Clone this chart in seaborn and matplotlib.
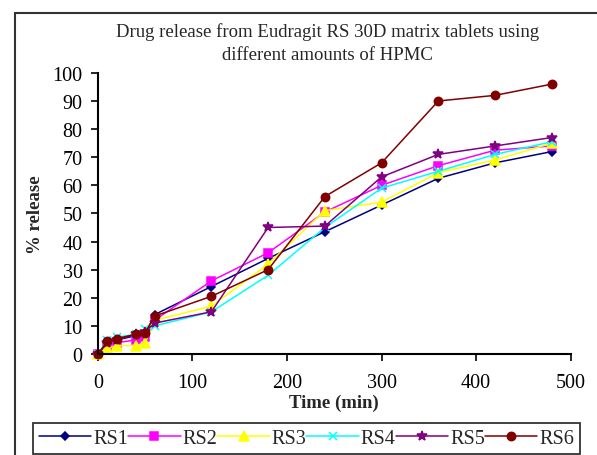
import matplotlib
matplotlib.use("Agg")
import matplotlib.pyplot as plt
import seaborn as sns
import pandas as pd
from matplotlib.patches import Rectangle

time = [0, 10, 20, 40, 50, 60, 120, 180, 240, 300, 360, 420, 480]
rs1 = [0, 4.0, 5.0, 6.5, 7.0, 14.0, 24.0, 34.0, 43.5, 53.0, 62.5, 68.0, 72.0]
rs2 = [0, 3.0, 4.0, 5.0, 6.0, 12.0, 26.0, 36.0, 50.5, 60.0, 67.0, 72.5, 74.0]
rs3 = [0, 2.0, 3.0, 3.0, 4.0, 12.0, 17.0, 32.0, 51.0, 54.0, 64.5, 69.0, 75.0]
rs4 = [0, 5.0, 6.0, 7.0, 9.0, 10.0, 15.0, 28.0, 45.0, 59.0, 65.0, 71.0, 75.5]
rs5 = [0, 4.0, 5.0, 7.0, 8.0, 11.0, 15.0, 45.0, 45.5, 63.0, 71.0, 74.0, 77.0]
rs6 = [0, 4.5, 5.5, 7.0, 7.5, 13.5, 20.5, 30.0, 56.0, 68.0, 90.0, 92.0, 96.0]
series_names = ["RS1", "RS2", "RS3", "RS4", "RS5", "RS6"]
series_values = [rs1, rs2, rs3, rs4, rs5, rs6]
x_ticks = [0, 100, 200, 300, 400, 500]
y_ticks = [0, 10, 20, 30, 40, 50, 60, 70, 80, 90, 100]
title = "Drug release from Eudragit RS 30D matrix tablets using\ndifferent amounts of HPMC"

rows = []
for name, vals in zip(series_names, series_values):
    for t, v in zip(time, vals):
        rows.append({"Time": t, "Release": v, "Series": name})
df = pd.DataFrame(rows)

sns.set_style("ticks")
plt.rcParams['font.family'] = ['Liberation Serif', 'DejaVu Serif']

palette = {"RS1": "#000080", "RS2": "#FF00FF", "RS3": "#FFFF00",
           "RS4": "#00FFFF", "RS5": "#800080", "RS6": "#800000"}
markers = {"RS1": "D", "RS2": "s", "RS3": "^", "RS4": "x", "RS5": "*", "RS6": "o"}
msizes = {"RS1": 4.5, "RS2": 6, "RS3": 6.5, "RS4": 6, "RS5": 7, "RS6": 6}

fig = plt.figure(figsize=(5.97, 4.56), dpi=100)
ax = fig.add_axes([0.164, 0.2215, 0.792, 0.6165])

for name in series_names:
    sub = df[df["Series"] == name]
    sns.lineplot(data=sub, x="Time", y="Release", ax=ax, color=palette[name],
                 marker=markers[name], markersize=msizes[name], linewidth=1.1,
                 markeredgecolor=palette[name], markeredgewidth=1.1,
                 estimator=None, sort=False, label=name, legend=False, clip_on=False)

ax.set_xlim(0, 500)
ax.set_ylim(0, 100)
ax.set_xticks(x_ticks)
ax.set_yticks(y_ticks)
ax.tick_params(axis='both', labelsize=14.5, direction='out', length=5, width=1.2, colors='black')
ax.tick_params(axis='x', pad=9)
ax.tick_params(axis='y', pad=6)
for s in ["top", "right"]:
    ax.spines[s].set_visible(False)
for s in ["left", "bottom"]:
    ax.spines[s].set_linewidth(1.5)
    ax.spines[s].set_color('black')

ax.set_xlabel("Time (min)", fontsize=13.5, fontweight='bold', labelpad=1)
ax.set_ylabel("% release", fontsize=13.5, fontweight='bold', labelpad=6)

fig.text(0.548, 0.905, title, ha='center', va='center', fontsize=13.5, linespacing=1.45)

handles, labels = ax.get_legend_handles_labels()
leg = fig.legend(handles, labels, loc='upper left',
                 bbox_to_anchor=(33/597, (456-424)/456 - 0.2, (580-33)/597, 0.2),
                 mode='expand', ncol=6, fontsize=14.5, frameon=True, fancybox=False,
                 edgecolor='black', handlelength=2.6, handletextpad=0.1, columnspacing=0.5,
                 borderpad=0.3, borderaxespad=0)
leg.get_frame().set_linewidth(1.3)

fig.patches.append(Rectangle((15/597, -0.05), 1.0, (456-14)/456 + 0.05, transform=fig.transFigure,
                             fill=False, edgecolor='#333333', linewidth=1.5))

fig.savefig("out.png", dpi=100)
